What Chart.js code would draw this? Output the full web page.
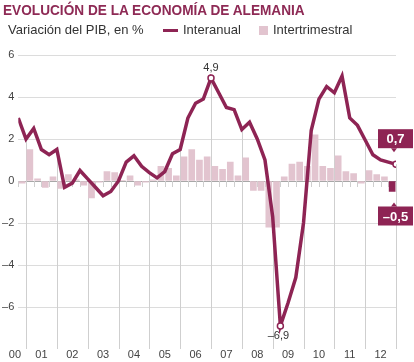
<!DOCTYPE html>
<html>
<head>
<meta charset="utf-8">
<script src="https://cdn.jsdelivr.net/npm/chart.js@4.4.1/dist/chart.umd.min.js"></script>
<style>
  body { margin: 0; background: #fff; }
  #wrap { position: relative; width: 414px; height: 362px; font-family: "Liberation Sans", Arial, sans-serif; }
  #titulo { position: absolute; left: 3px; top: 1px; font-size: 15px; font-weight: bold; color: #8e2a55; white-space: nowrap; transform-origin: left top; }
  .txt { position: absolute; top: 22px; font-size: 13px; color: #333; white-space: nowrap; }
  #linea { position: absolute; left: 163px; top: 29px; width: 15px; height: 3px; background: #8e2454; }
  #cuadro { position: absolute; left: 259px; top: 26px; width: 9px; height: 9px; background: #e2c4cf; }
  canvas { position: absolute; left: 0; top: 0; }
</style>
</head>
<body>
<div id="wrap">
  <canvas id="myChart" width="414" height="362"></canvas>
  <div id="titulo">EVOLUCIÓN DE LA ECONOMÍA DE ALEMANIA</div>
  <div class="txt" style="left:8px">Variación del PIB, en %</div>
  <div id="linea"></div>
  <div class="txt" style="left:183px">Interanual</div>
  <div id="cuadro"></div>
  <div class="txt" style="left:273px">Intertrimestral</div>
</div>
<script>
// años del eje (etiquetas)
var anios = ["00", "01", "02", "03", "04", "05", "06", "07", "08", "09", "10", "11", "12"];
var primerAnio = 2000;

// interanual: desde el 3er trimestre de 2000 hasta el 4º de 2012 (fin de trimestre)
var interanual = [3.0, 2.0,
	2.5, 1.5, 1.25, 1.5,
	-0.3, -0.1, 0.5, 0.1,
	-0.3, -0.7, -0.5, 0.0,
	0.9, 1.2, 0.7, 0.4,
	0.15, 0.45, 1.3, 1.5,
	3.0, 3.7, 3.9, 4.9,
	4.2, 3.5, 3.4, 2.45,
	2.8, 2.0, 1.0, -1.7,
	-6.9, -5.8, -4.6, -2.0,
	2.4, 3.9, 4.5, 4.2,
	5.0, 3.0, 2.65, 1.95,
	1.25, 1.0, 0.9, 0.8];

// intertrimestral: desde el 4º trimestre de 2000 hasta el 4º de 2012
var intertrimestral = [-0.1,
	1.5, 0.1, -0.3, 0.2,
	-0.35, 0.3, 0.05, -0.2,
	-0.8, -0.05, 0.45, 0.4,
	0.02, 0.25, -0.2, -0.05,
	0.05, 0.7, 0.6, 0.25,
	1.15, 1.5, 1.0, 1.15,
	0.7, 0.55, 0.9, 0.25,
	1.1, -0.45, -0.45, -2.2,
	-2.2, 0.2, 0.8, 0.9,
	0.7, 2.2, 0.7, 0.6,
	1.2, 0.45, 0.35, -0.1,
	0.5, 0.3, 0.2, -0.5];

var yTicks = [-6, -4, -2, 0, 2, 4, 6];

// puntos destacados de la línea
var destacados = [
	{ i: 25, texto: "4,9", donde: "arriba" },
	{ i: 34, texto: "\u20136,9", donde: "abajo" }
];
var etiquetaFinal = "0,7";
var etiquetaBarraFinal = "\u20130,5";

var granate = "#8e2454";
var rosa = "#e2c4cf";

var inicioLinea = primerAnio + 0.75;   // fin del 3T 2000
var inicioBarras = primerAnio + 0.875; // centro del 4T 2000

var datosLinea = interanual.map(function (v, i) { return { x: inicioLinea + i * 0.25, y: v }; });
var datosBarras = intertrimestral.map(function (v, i) { return { x: inicioBarras + i * 0.25, y: v }; });

function fmt(v) { return v < 0 ? "\u2013" + Math.abs(v) : "" + v; }

var lineasVerticales = {
	id: "lineasVerticales",
	beforeDatasetsDraw: function (chart) {
		var ctx = chart.ctx, area = chart.chartArea;
		var meta = chart.getDatasetMeta(1);
		var y0 = chart.scales.y.getPixelForValue(0);
		ctx.save();
		ctx.strokeStyle = "#cfcfcf";
		ctx.lineWidth = 1;
		meta.data.forEach(function (p, i) {
			var xv = datosLinea[i].x;
			var x = Math.round(p.x) + 0.5;
			ctx.beginPath();
			if (Number.isInteger(xv)) {
				ctx.moveTo(x, p.y);
				ctx.lineTo(x, area.bottom);
			} else {
				ctx.moveTo(x, y0);
				ctx.lineTo(x, y0 + 6);
			}
			ctx.stroke();
		});
		ctx.restore();
	}
};

var etiquetas = {
	id: "etiquetas",
	afterDatasetsDraw: function (chart) {
		var ctx = chart.ctx;
		var meta = chart.getDatasetMeta(1);
		var metaB = chart.getDatasetMeta(0);
		ctx.save();
		ctx.font = "11px 'Liberation Sans', Arial, sans-serif";
		ctx.fillStyle = "#333";
		ctx.textAlign = "center";
		destacados.forEach(function (d) {
			var p = meta.data[d.i];
			if (d.donde == "arriba") {
				ctx.textBaseline = "bottom";
				ctx.fillText(d.texto, p.x, p.y - 5);
			} else {
				ctx.textBaseline = "top";
				ctx.fillText(d.texto, p.x - 2, p.y + 5);
			}
		});
		// cajas del último dato
		ctx.font = "bold 13px 'Liberation Sans', Arial, sans-serif";
		ctx.textBaseline = "middle";
		var last = meta.data[meta.data.length - 1];
		var bx = last.x - 18, bw = 35, bh = 19, by = last.y - 35;
		ctx.fillStyle = granate;
		ctx.fillRect(bx, by, bw, bh);
		ctx.beginPath();
		ctx.moveTo(last.x - 5, by + bh);
		ctx.lineTo(last.x - 2, by + bh + 4);
		ctx.lineTo(last.x + 1, by + bh);
		ctx.fill();
		ctx.fillStyle = "#fff";
		ctx.fillText(etiquetaFinal, bx + bw / 2, by + bh / 2 + 1);

		var bar = metaB.data[metaB.data.length - 1];
		var by2 = bar.y + 15;
		ctx.fillStyle = granate;
		ctx.fillRect(bx, by2, bw, bh);
		ctx.beginPath();
		ctx.moveTo(last.x - 5, by2);
		ctx.lineTo(last.x - 2, by2 - 4);
		ctx.lineTo(last.x + 1, by2);
		ctx.fill();
		ctx.fillStyle = "#fff";
		ctx.fillText(etiquetaBarraFinal, bx + bw / 2, by2 + bh / 2 + 1);
		ctx.restore();
	}
};

new Chart("myChart", {
	type: "bar",
	data: {
		datasets: [{
			type: "bar",
			label: "Intertrimestral",
			data: datosBarras,
			backgroundColor: function (c) { return c.dataIndex == intertrimestral.length - 1 ? granate : rosa; },
			barThickness: 6,
			order: 2
		}, {
			type: "line",
			label: "Interanual",
			data: datosLinea,
			borderColor: granate,
			borderWidth: 3.5,
			tension: 0,
			borderJoinStyle: "miter",
			pointRadius: function (c) {
				return (c.dataIndex == 25 || c.dataIndex == 34 || c.dataIndex == interanual.length - 1) ? 3 : 0;
			},
			pointBackgroundColor: "#fff",
			pointBorderColor: granate,
			pointBorderWidth: 1.5,
			order: 1
		}]
	},
	options: {
		responsive: false,
		animation: false,
		devicePixelRatio: 1,
		layout: { autoPadding: false, padding: { top: 55, right: 18, left: 0, bottom: 0 } },
		plugins: {
			legend: { display: false },
			tooltip: { enabled: false },
			title: { display: false }
		},
		scales: {
			x: {
				type: "linear",
				offset: false,
				min: inicioLinea,
				max: primerAnio + anios.length,
				grid: { display: false, drawTicks: false },
				border: { display: false },
				afterBuildTicks: function (s) {
					s.ticks = anios.map(function (a, i) {
						return { value: Math.max(primerAnio + i + 0.5, inicioLinea - 0.11) };
					});
				},
				afterFit: function (s) { s.height = 13; },
				ticks: {
					padding: -1,
					autoSkip: false,
					maxRotation: 0,
					color: "#444",
					font: { family: "'Liberation Sans', Arial, sans-serif", size: 11 },
					callback: function (v, i) { return anios[i]; }
				}
			},
			y: {
				min: -8,
				max: 6,
				afterBuildTicks: function (s) {
					s.ticks = yTicks.map(function (v) { return { value: v }; });
				},
				afterFit: function (s) { s.width = 18.3; },
				grid: {
					drawTicks: false,
					color: function (c) { return c.tick && c.tick.value == 0 ? "#a8a8a8" : "#dcdcdc"; }
				},
				border: { display: false },
				ticks: {
					padding: 4,
					color: "#444",
					font: { family: "'Liberation Sans', Arial, sans-serif", size: 11 },
					callback: function (v) { return fmt(v); }
				}
			}
		}
	},
	plugins: [lineasVerticales, etiquetas]
});

// ajustar el ancho del título
var t = document.getElementById("titulo");
t.style.transform = "scaleX(" + (302 / t.offsetWidth) + ")";
</script>
</body>
</html>
